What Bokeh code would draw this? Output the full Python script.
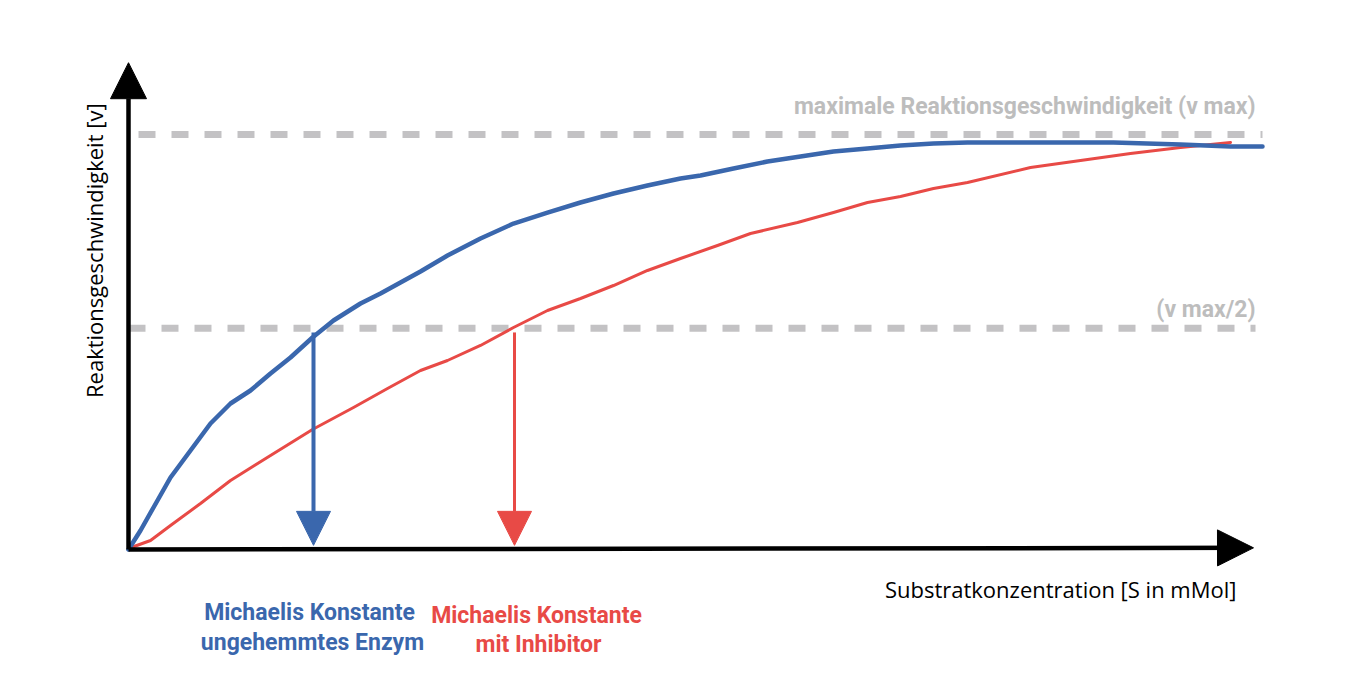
import math
from bokeh.plotting import figure
from bokeh.models import Range1d, Arrow, NormalHead, Label
from bokeh.embed import file_html
from bokeh.resources import INLINE

# ---- data (substrate S in arbitrary mMol units, velocity v in % of vmax) ----
s_blue = [0, 0.12, 0.25, 0.42, 0.62, 0.82, 1.02, 1.22, 1.42, 1.62, 1.84, 2.05, 2.32, 2.52, 2.72,
          2.92, 3.19, 3.52, 3.85, 4.19, 4.52, 4.85, 5.19, 5.52, 5.72, 6.05, 6.39, 6.72, 7.05,
          7.39, 7.72, 8.05, 8.39, 9.19, 9.85, 10.52, 11.02, 11.34]
v_blue = [0, 4.58, 10.12, 17.35, 23.86, 30.36, 35.18, 38.31, 42.41, 46.27, 51.08, 55.18, 59.28,
          61.69, 64.34, 66.99, 70.84, 74.94, 78.55, 81.20, 83.61, 85.78, 87.71, 89.40, 90.12,
          91.81, 93.49, 94.70, 95.90, 96.63, 97.35, 97.83, 98.07, 98.07, 98.07, 97.59, 97.11, 97.11]

s_red = [0, 0.22, 0.42, 0.72, 1.02, 1.42, 1.84, 2.25, 2.59, 2.92, 3.19, 3.52, 3.85, 4.19, 4.52,
         4.85, 5.19, 5.52, 5.89, 6.22, 6.69, 7.05, 7.39, 7.72, 8.05, 8.39, 9.02, 9.52, 10.02,
         10.52, 11.02]
v_red = [0.24, 2.17, 5.78, 11.08, 16.63, 22.65, 28.92, 34.22, 38.80, 43.13, 45.54, 49.16, 53.49,
         57.59, 60.48, 63.61, 67.23, 70.12, 73.25, 76.14, 78.80, 81.20, 83.61, 85.06, 86.99,
         88.43, 92.05, 93.73, 95.42, 96.87, 98.07]

vmax = 100.0
vhalf = 53.3
vmax_s = [0.1, 11.34]
vhalf_s = [0.0, 11.27]
km_blue = 1.85
km_red = 3.86
axis_x_end = 11.25
axis_y_end = 117.3

BLUE = "#3a67ad"
RED = "#e84a46"
GRAY = "#c3c2c4"
TXT_GRAY = "#bdbdbd"

p = figure(width=1351, height=672, output_backend="svg", toolbar_location=None,
           x_range=Range1d(-1.28, 12.23), y_range=Range1d(-29.64, 132.29),
           min_border=0, min_border_left=0, min_border_right=0, min_border_top=0, min_border_bottom=0)
p.axis.visible = False
p.grid.visible = False
p.outline_line_color = None
p.background_fill_color = "white"
p.border_fill_color = "white"

# dashed reference lines
p.line(vmax_s, [vmax, vmax], line_color=GRAY, line_width=7, line_dash="17 16")
p.line(vhalf_s, [vhalf, vhalf], line_color=GRAY, line_width=7, line_dash="17 16")

# axes as arrows
p.add_layout(Arrow(end=NormalHead(size=36, fill_color="black", line_color="black"),
                   x_start=0, y_start=0, x_end=0, y_end=axis_y_end,
                   line_color="black", line_width=4.5))
p.add_layout(Arrow(end=NormalHead(size=36, fill_color="black", line_color="black"),
                   x_start=0, y_start=0, x_end=axis_x_end, y_end=0.4,
                   line_color="black", line_width=4.5))

# curves
p.line(s_red, v_red, line_color=RED, line_width=3, line_join="round", line_cap="round")
p.line(s_blue, v_blue, line_color=BLUE, line_width=4.5, line_join="round", line_cap="round")

# Km arrows
p.add_layout(Arrow(end=NormalHead(size=34, fill_color=BLUE, line_color=BLUE),
                   x_start=km_blue, y_start=vhalf - 1.0, x_end=km_blue, y_end=1.0,
                   line_color=BLUE, line_width=4))
p.add_layout(Arrow(end=NormalHead(size=34, fill_color=RED, line_color=RED),
                   x_start=km_red, y_start=vhalf - 1.0, x_end=km_red, y_end=1.0,
                   line_color=RED, line_width=3))

# texts
def lab(x, y, t, color, size, style="normal", align="center", font="Open Sans", angle=0):
    p.add_layout(Label(x=x, y=y, text=t, text_color=color, text_font_size=size,
                       text_font=font, text_font_style=style, text_align=align,
                       text_baseline="middle", angle=angle))

lab(11.27, 106.7, "maximale Reaktionsgeschwindigkeit (v max)", TXT_GRAY, "23px", "bold", "right", "Roboto")
lab(11.27, 57.8, "(v max/2)", TXT_GRAY, "23px", "bold", "right", "Roboto")
lab(11.08, -9.6, "Substratkonzentration [S in mMol]", "black", "22px", "normal", "right")
lab(-0.35, 72.0, "Reaktionsgeschwindigkeit [v]", "black", "22px", "normal", "center", angle=math.pi / 2)
lab(1.81, -15.1, "Michaelis Konstante", BLUE, "23px", "bold", "center", "Roboto")
lab(1.84, -22.3, "ungehemmtes Enzym", BLUE, "23px", "bold", "center", "Roboto")
lab(4.08, -15.9, "Michaelis Konstante", RED, "23px", "bold", "center", "Roboto")
lab(4.10, -22.9, "mit Inhibitor", RED, "23px", "bold", "center", "Roboto")

open("out.html", "w").write(file_html(p, INLINE))
